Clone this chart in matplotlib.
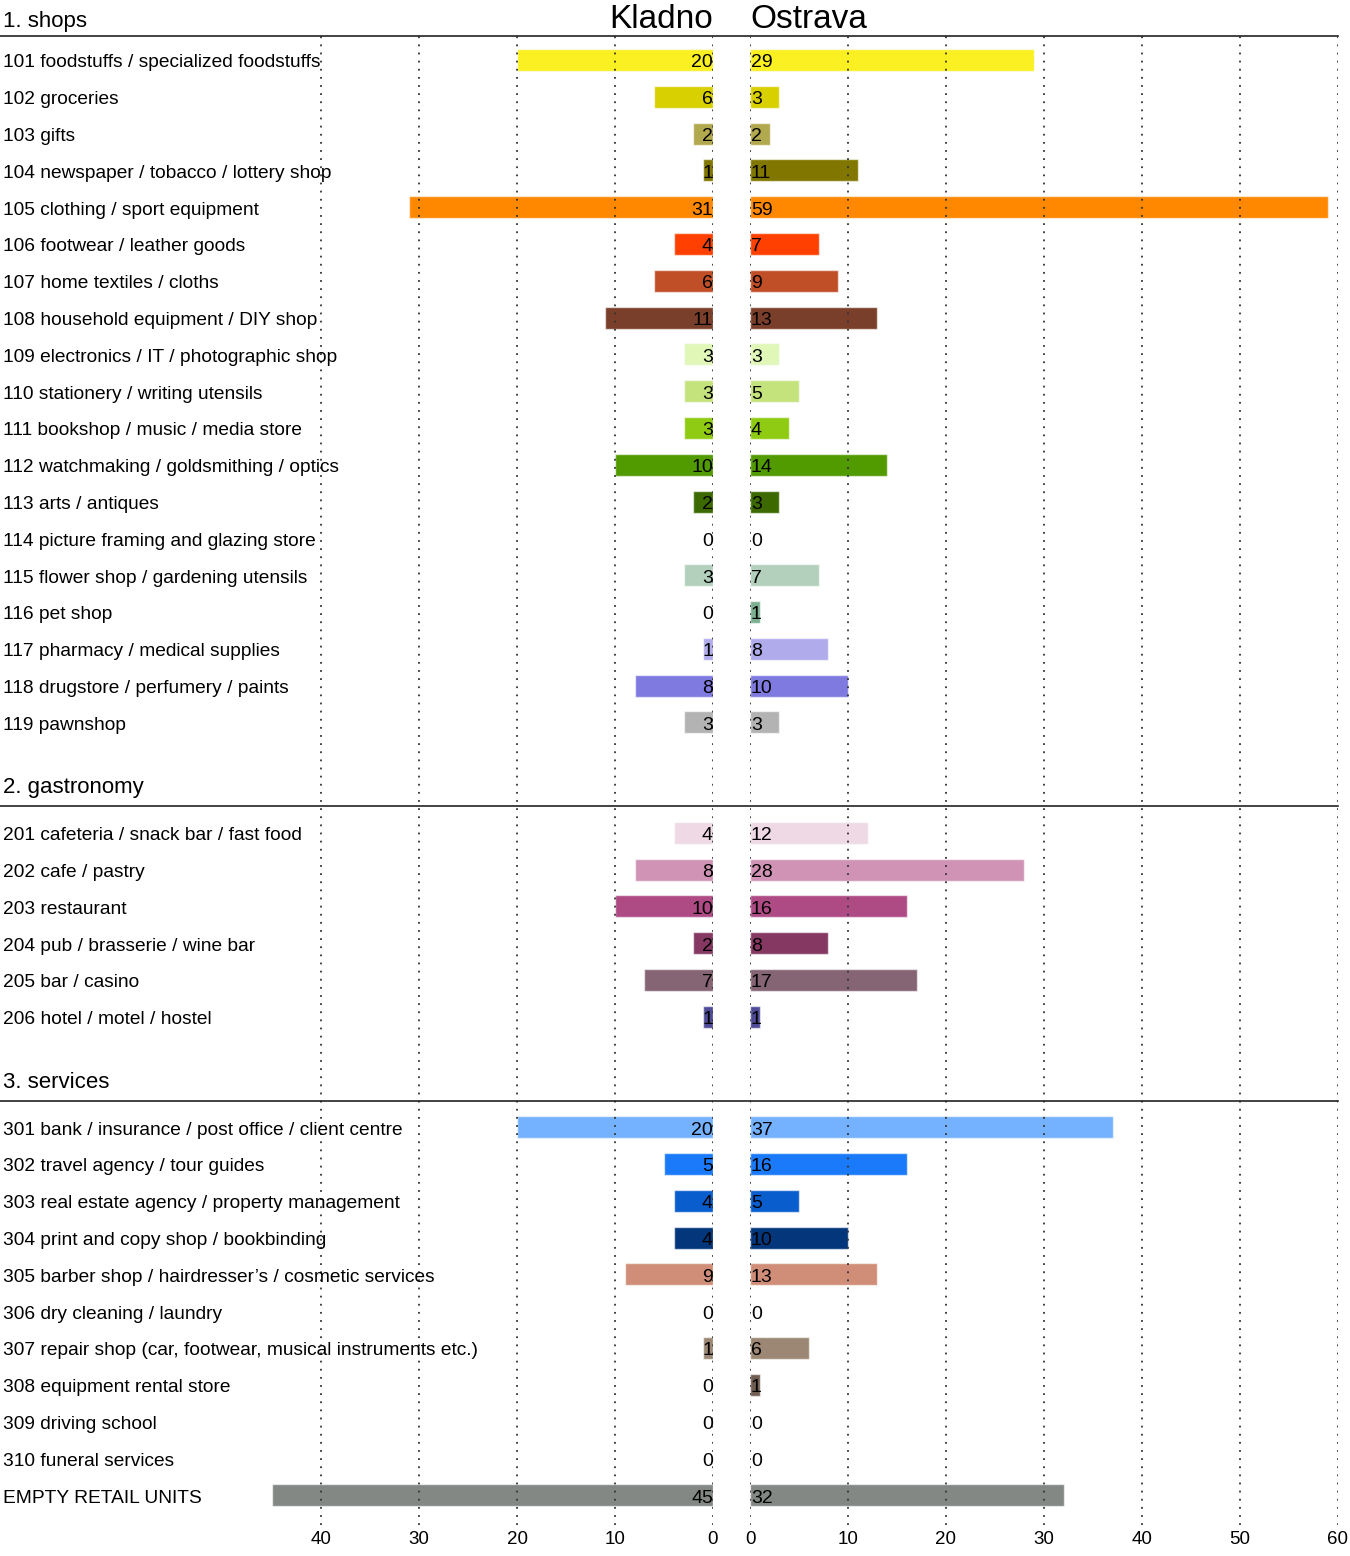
import matplotlib.pyplot as plt
from matplotlib.lines import Line2D
from matplotlib.transforms import blended_transform_factory

plt.rcParams['font.family'] = ['Liberation Sans', 'DejaVu Sans']

# data
sections = ['1. shops', '2. gastronomy', '3. services']

shops = ['101 foodstuffs / specialized foodstuffs', '102 groceries', '103 gifts',
         '104 newspaper / tobacco / lottery shop', '105 clothing / sport equipment',
         '106 footwear / leather goods', '107 home textiles / cloths',
         '108 household equipment / DIY shop', '109 electronics / IT / photographic shop',
         '110 stationery / writing utensils', '111 bookshop / music / media store',
         '112 watchmaking / goldsmithing / optics', '113 arts / antiques',
         '114 picture framing and glazing store', '115 flower shop / gardening utensils',
         '116 pet shop', '117 pharmacy / medical supplies',
         '118 drugstore / perfumery / paints', '119 pawnshop']
shops_kladno = [20, 6, 2, 1, 31, 4, 6, 11, 3, 3, 3, 10, 2, 0, 3, 0, 1, 8, 3]
shops_ostrava = [29, 3, 2, 11, 59, 7, 9, 13, 3, 5, 4, 14, 3, 0, 7, 1, 8, 10, 3]
shops_colors = ['#fbf022', '#d9d000', '#b2a94e', '#807600', '#ff8800', '#ff4000',
                '#c04f28', '#7a3f2a', '#e0f7b8', '#c5e37d', '#8fcb13', '#519b00',
                '#3c6a00', '#ffffff', '#b3d0bd', '#7db090', '#b0abeb', '#7f7ae0',
                '#b3b3b3']

gastro = ['201 cafeteria / snack bar / fast food', '202 cafe / pastry', '203 restaurant',
          '204 pub / brasserie / wine bar', '205 bar / casino', '206 hotel / motel / hostel']
gastro_kladno = [4, 8, 10, 2, 7, 1]
gastro_ostrava = [12, 28, 16, 8, 17, 1]
gastro_colors = ['#eed9e5', '#d093b6', '#ae4b85', '#853962', '#856474', '#4f4c95']

services = ['301 bank / insurance / post office / client centre',
            '302 travel agency / tour guides',
            '303 real estate agency / property management',
            '304 print and copy shop / bookbinding',
            '305 barber shop / hairdresser\u2019s / cosmetic services',
            '306 dry cleaning / laundry',
            '307 repair shop (car, footwear, musical instruments etc.)',
            '308 equipment rental store', '309 driving school', '310 funeral services',
            'EMPTY RETAIL UNITS']
services_kladno = [20, 5, 4, 4, 9, 0, 1, 0, 0, 0, 45]
services_ostrava = [37, 16, 5, 10, 13, 0, 6, 1, 0, 0, 32]
services_colors = ['#74b1fe', '#1a7afa', '#0a5dcd', '#04367c', '#d08e78', '#ffffff',
                   '#9c8774', '#705e52', '#ffffff', '#ffffff', '#838884']

groups = [(shops, shops_kladno, shops_ostrava, shops_colors),
          (gastro, gastro_kladno, gastro_ostrava, gastro_colors),
          (services, services_kladno, services_ostrava, services_colors)]

# layout (pixels)
W, H = 1350, 1556
top_px, bot_px = 36, 1525
row0_px, step_px = 60, 36.8
px_unit = 9.8
head_off = [-1.05, -1.22, -1.22]
line_off = [-0.65, -0.74, -0.72]

fig = plt.figure(figsize=(W / 100, H / 100), dpi=100)
ax_b = 1 - bot_px / H
ax_h = (bot_px - top_px) / H
axL = fig.add_axes([0, ax_b, 713 / W, ax_h])
axR = fig.add_axes([750 / W, ax_b, 588 / W, ax_h])

labels, kl, os_, cols, ys = [], [], [], [], []
heads = []
pos = 0
for i, (names, k, o, c) in enumerate(groups):
    heads.append(pos)
    for j in range(len(names)):
        labels.append(names[j])
        kl.append(k[j])
        os_.append(o[j])
        cols.append(c[j])
        ys.append(pos + j)
    pos += len(names) + 2

edge = (1, 1, 1, 0.6)
axL.barh(ys, kl, height=0.6, color=cols, edgecolor=edge, linewidth=1, zorder=1)
axR.barh(ys, os_, height=0.6, color=cols, edgecolor=edge, linewidth=1, zorder=1)

for y, k, o in zip(ys, kl, os_):
    axL.text(0, y + 0.08, str(k), ha='right', va='center', fontsize=14, zorder=3)
    axR.text(0.1, y + 0.08, str(o), ha='left', va='center', fontsize=14, zorder=3)

ylim = ((bot_px - row0_px) / step_px, (top_px - row0_px) / step_px)
axL.set_xlim(713 / px_unit, 0)
axR.set_xlim(0, 60)
for ax in (axL, axR):
    ax.set_ylim(*ylim)
    ax.set_yticks([])
    for s in ax.spines.values():
        s.set_visible(False)
    ax.set_axisbelow(False)
    ax.grid(axis='x', linestyle=(0, (1, 3.5)), color='#333333', linewidth=1.3)
    ax.tick_params(axis='x', length=0, labelsize=13.5, pad=4)
    ax.patch.set_alpha(0)
axL.set_xticks([0, 10, 20, 30, 40])
axR.set_xticks([0, 10, 20, 30, 40, 50, 60])

trans = blended_transform_factory(fig.transFigure, axL.transData)
for y, name in zip(ys, labels):
    axL.text(3 / W, y + 0.08, name, transform=trans, ha='left', va='center',
             fontsize=13.8, clip_on=False)

for h, name, ho, lo in zip(heads, sections, head_off, line_off):
    axL.text(3 / W, h + ho, name, transform=trans, ha='left', va='center',
             fontsize=16, clip_on=False)
    fig.add_artist(Line2D([0, 1338 / W], [h + lo, h + lo], transform=trans,
                          color='#222222', linewidth=1.2))

fig.text(713 / W, 1 - 20 / H, 'Kladno', ha='right', va='center', fontsize=24)
fig.text(750 / W, 1 - 20 / H, 'Ostrava', ha='left', va='center', fontsize=24)

fig.savefig('out.png', dpi=100)
